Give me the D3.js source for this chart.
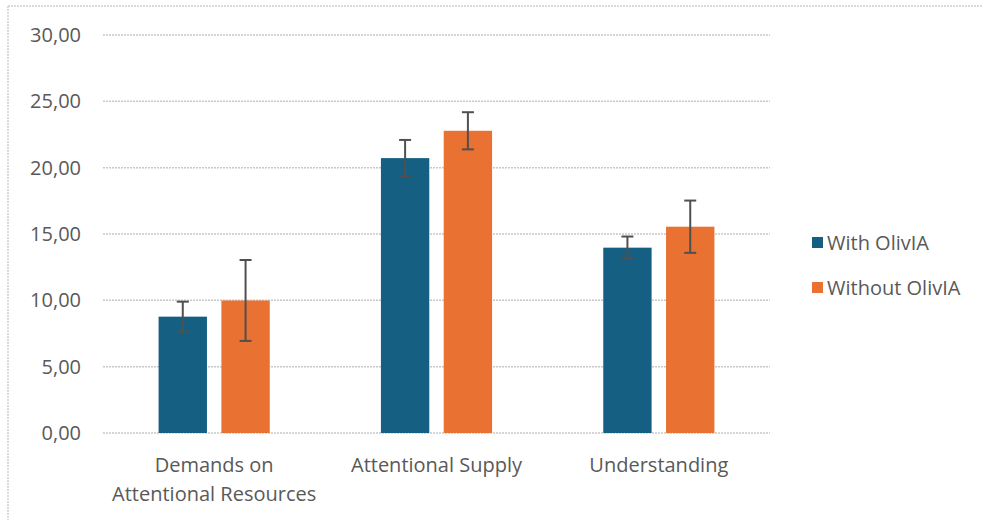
<!DOCTYPE html>
<html>
<head>
<meta charset="utf-8">
<script src="https://cdn.jsdelivr.net/npm/d3@7/dist/d3.min.js"></script>
<style>
  html, body { margin: 0; padding: 0; background: #fff; }
  svg { display: block; font-family: "Open Sans", Lato, sans-serif; }
</style>
</head>
<body>
<svg id="chart" width="983" height="520"></svg>
<script>
// Categories and series (means with standard deviations)
const categories = [["Demands on", "Attentional Resources"], ["Attentional Supply"], ["Understanding"]];
const seriesNames = ["With OlivIA", "Without OlivIA"];
const withMeans = [8.77, 20.72, 13.97];
const withErrors = [1.13, 1.37, 0.84];
const withoutMeans = [9.99, 22.78, 15.55];
const withoutErrors = [3.05, 1.40, 1.97];
const yTicks = [0, 5, 10, 15, 20, 25, 30];
const colors = ["#156082", "#E97132"];

const svg = d3.select("#chart");
const margin = { left: 103, right: 213, top: 35, bottom: 87 };
const W = 983, H = 520;
const textColor = "#595959";

// Outer frame (top and left edges)
svg.append("line").attr("x1", 8).attr("x2", 982).attr("y1", 6).attr("y2", 6)
  .attr("stroke", "#d0d0d0").attr("stroke-width", 1.5).attr("stroke-dasharray", "2,1");
svg.append("line").attr("x1", 8).attr("x2", 8).attr("y1", 6).attr("y2", H)
  .attr("stroke", "#d0d0d0").attr("stroke-width", 1.5).attr("stroke-dasharray", "2,1");

const x0 = d3.scaleBand()
  .domain(d3.range(categories.length))
  .range([margin.left, W - margin.right])
  .paddingInner(0.5).paddingOuter(0.25);
const x1 = d3.scaleBand()
  .domain(d3.range(seriesNames.length))
  .range([0, x0.bandwidth()])
  .paddingInner(0.23);
const y = d3.scaleLinear().domain([0, 30]).range([H - margin.bottom, margin.top]);

// Gridlines
svg.append("g").selectAll("line").data(yTicks).join("line")
  .attr("x1", margin.left).attr("x2", W - margin.right)
  .attr("y1", d => y(d)).attr("y2", d => y(d))
  .attr("stroke", "#c8c8c8").attr("stroke-width", 1.5).attr("stroke-dasharray", "2,1");

// Y axis labels
const yAxis = d3.axisLeft(y).tickValues(yTicks).tickSize(0).tickPadding(0)
  .tickFormat(d => d3.format(".2f")(d).replace(".", ","));
const yg = svg.append("g").attr("transform", `translate(${margin.left - 22},0)`).call(yAxis);
yg.select(".domain").remove();
yg.selectAll("text").attr("fill", textColor).attr("font-size", 20).attr("font-family", '"Open Sans", sans-serif');

// Bars
const series = [
  { means: withMeans, errs: withErrors },
  { means: withoutMeans, errs: withoutErrors }
];
series.forEach((s, si) => {
  const g = svg.append("g");
  g.selectAll("rect").data(s.means).join("rect")
    .attr("x", (d, i) => x0(i) + x1(si))
    .attr("width", x1.bandwidth())
    .attr("y", d => y(d))
    .attr("height", d => y(0) - y(d))
    .attr("fill", colors[si]);
  // Error bars
  const eg = svg.append("g").attr("stroke", "#505050").attr("stroke-width", 2);
  s.means.forEach((m, i) => {
    const cx = x0(i) + x1(si) + x1.bandwidth() / 2;
    const e = s.errs[i];
    eg.append("line").attr("x1", cx).attr("x2", cx).attr("y1", y(m + e)).attr("y2", y(m - e));
    eg.append("line").attr("x1", cx - 6).attr("x2", cx + 6).attr("y1", y(m + e)).attr("y2", y(m + e));
    eg.append("line").attr("x1", cx - 6).attr("x2", cx + 6).attr("y1", y(m - e)).attr("y2", y(m - e));
  });
});

// Category labels
const xg = svg.append("g");
categories.forEach((lines, i) => {
  const t = xg.append("text")
    .attr("x", x0(i) + x0.bandwidth() / 2)
    .attr("y", H - margin.bottom + 39)
    .attr("text-anchor", "middle")
    .attr("fill", textColor).attr("font-size", 20);
  lines.forEach((ln, k) => {
    t.append("tspan").attr("x", x0(i) + x0.bandwidth() / 2).attr("dy", k === 0 ? 0 : 29).text(ln);
  });
});

// Legend
const lg = svg.append("g").attr("transform", "translate(812,243)");
seriesNames.forEach((name, i) => {
  const row = lg.append("g").attr("transform", `translate(0,${i * 45})`);
  row.append("rect").attr("x", 0).attr("y", -6).attr("width", 11).attr("height", 11).attr("fill", colors[i]);
  row.append("text").attr("x", 15).attr("y", 0).attr("dy", "0.35em")
    .attr("fill", textColor).attr("font-size", 20).text(name);
});
</script>
</body>
</html>
